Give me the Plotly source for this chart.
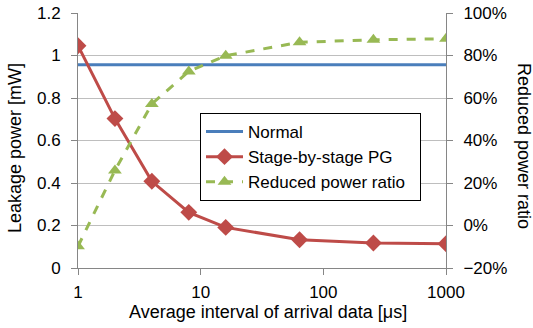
import plotly.graph_objects as go

intervals = [1, 2, 4, 8, 16, 64, 256, 1000]
normal_mw = [0.957, 0.957, 0.957, 0.957, 0.957, 0.957, 0.957, 0.957]
stage_pg_mw = [1.046, 0.703, 0.408, 0.262, 0.191, 0.133, 0.118, 0.114]
reduced_ratio = [-0.098, 0.259, 0.572, 0.725, 0.799, 0.862, 0.874, 0.879]

x_ticks = [1, 10, 100, 1000]
x_ticktext = ["1", "10", "100", "1000"]

FONT = "Liberation Sans, Arial, sans-serif"
GRID = "#BEBEBE"
AXIS = "#868686"
NBSP = "\u00a0"

L, R, T, B = 78, 87, 13, 60
W, H = 533, 328
PW, PH = W - L - R, H - T - B

def px_x(px):
    return (px - L) / PW

def px_y(py):
    return (H - B - py) / PH

fig = go.Figure()
fig.add_trace(go.Scatter(
    x=intervals, y=normal_mw, name="Normal", mode="lines",
    line=dict(color="#4A7EBB", width=3),
))
fig.add_trace(go.Scatter(
    x=intervals, y=stage_pg_mw, name="Stage-by-stage PG", mode="lines+markers",
    line=dict(color="#BE4B48", width=3),
    marker=dict(symbol="diamond", size=13, color="#BE4B48"),
))
fig.add_trace(go.Scatter(
    x=intervals, y=reduced_ratio, name="Reduced power ratio" + NBSP * 2, mode="lines+markers",
    yaxis="y2",
    line=dict(color="#98B954", width=3, dash="dash"),
    marker=dict(symbol="triangle-up", size=12, color="#98B954"),
))

fig.update_layout(
    width=W, height=H,
    margin=dict(l=L, r=R, t=T, b=B, autoexpand=False),
    paper_bgcolor="white", plot_bgcolor="white",
    font=dict(family=FONT, size=17, color="black"),
    showlegend=True,
    legend=dict(
        x=px_x(200), y=px_y(113), xanchor="left", yanchor="top",
        bgcolor="white", bordercolor="black", borderwidth=1,
        font=dict(size=17), tracegroupgap=0, itemwidth=37,
    ),
    xaxis=dict(
        type="log", range=[0, 3],
        tickvals=x_ticks, ticktext=x_ticktext,
        showgrid=False, showline=True, linecolor=AXIS, linewidth=1,
        ticks="outside", ticklen=6, tickcolor=AXIS, ticklabelstandoff=3,
        automargin=False, mirror=False, zeroline=False,
    ),
    yaxis=dict(
        range=[0, 1.2], dtick=0.2, tick0=0,
        showgrid=True, gridcolor=GRID, gridwidth=1,
        showline=True, linecolor=AXIS, linewidth=1,
        ticks="outside", ticklen=6, tickcolor=AXIS, ticklabelstandoff=7,
        automargin=False, zeroline=False,
    ),
    yaxis2=dict(
        range=[-0.2, 1.0], dtick=0.2, tick0=-0.2,
        overlaying="y", side="right",
        tickformat=".0%",
        showgrid=False, showline=True, linecolor=AXIS, linewidth=1,
        ticks="outside", ticklen=6, tickcolor=AXIS, ticklabelstandoff=7,
        automargin=False, zeroline=False,
    ),
    annotations=[
        dict(text="Average interval of arrival data [μs]", xref="paper", yref="paper",
             x=px_x(268), y=px_y(312), xanchor="center", yanchor="middle",
             showarrow=False, font=dict(size=18)),
        dict(text="Leakage power [mW]", xref="paper", yref="paper",
             x=px_x(15), y=px_y(148), xanchor="center", yanchor="middle",
             textangle=-90, showarrow=False, font=dict(size=18)),
        dict(text="Reduced power ratio", xref="paper", yref="paper",
             x=px_x(524), y=px_y(146), xanchor="center", yanchor="middle",
             textangle=90, showarrow=False, font=dict(size=18)),
    ],
)

fig.write_html(
    "out.html",
    config={"displayModeBar": False},
    post_script="document.body.style.margin='0px';document.body.style.overflow='hidden';",
)
